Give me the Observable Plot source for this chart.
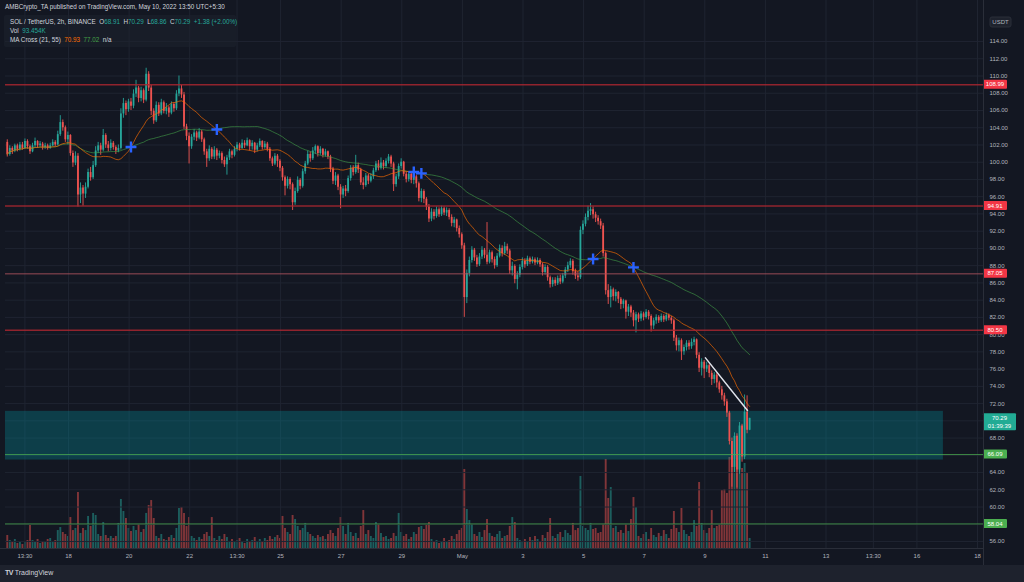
<!DOCTYPE html>
<html><head><meta charset="utf-8">
<script src="https://cdn.jsdelivr.net/npm/d3@7"></script>
<script src="https://cdn.jsdelivr.net/npm/@observablehq/plot@0.6"></script>
<style>
body{margin:0;background:#1e222d;font-family:"Liberation Sans",Arial,sans-serif;}
#wrap{position:relative;width:1024px;height:582px;overflow:hidden;background:#1e222d;}
#chart{position:absolute;left:0;top:0;width:1024px;height:565px;background:#131722;}
#chart svg{position:absolute;left:0;top:0;}
.txt{position:absolute;white-space:nowrap;color:#d1d4dc;font-size:6.3px;line-height:8px;}
.t{color:#26a69a}
#legend{position:absolute;left:4px;top:15px;width:232px;height:32px;background:rgba(30,34,45,0.55);border-radius:2px;}
#vline{position:absolute;left:983px;top:0;width:1px;height:565px;background:#2a2e39;}
#hline{position:absolute;left:0;top:548px;width:983px;height:1px;background:#2a2e39;}
#footer{position:absolute;left:5px;top:569px;font-size:7px;color:#d1d4dc;white-space:nowrap;}
</style></head>
<body>
<div id="wrap">
  <div id="chart"></div>
  <div id="vline"></div>
  <div id="hline"></div>
  <div class="txt" style="left:5px;top:3px;">AMBCrypto_TA published on TradingView.com, May 10, 2022 13:50 UTC+5:30</div>
  <div id="legend"></div>
  <div class="txt" style="left:10px;top:18px;">SOL / TetherUS, 2h, BINANCE&nbsp;&nbsp;O<span class="t">68.91</span>&nbsp;&nbsp;H<span class="t">70.29</span>&nbsp;&nbsp;L<span class="t">68.86</span>&nbsp;&nbsp;C<span class="t">70.29</span>&nbsp;&nbsp;<span class="t">+1.38 (+2.00%)</span></div>
  <div class="txt" style="left:10px;top:27px;">Vol&nbsp;&nbsp;<span class="t">93.454K</span></div>
  <div class="txt" style="left:10px;top:36px;">MA Cross (21, 55)&nbsp;&nbsp;<span style="color:#ff6d00">70.93</span>&nbsp;&nbsp;<span style="color:#43a047">77.02</span>&nbsp;&nbsp;n/a</div>
  <div id="footer"><span style="font-weight:900;letter-spacing:-0.6px;">TV</span>&nbsp;TradingView</div>
</div>
<script>
// ---------------- DATA ----------------
const firstOpen = 102.3;
const closes = [
100.9,101.6,101.3,101.9,101.5,102.0,101.6,102.4,101.8,101.2,101.9,102.4,
101.9,102.1,101.7,101.9,101.6,101.9,102.3,102.0,103.2,104.6,104.0,102.6,
103.1,101.0,99.9,100.7,96.2,97.0,96.3,97.1,98.8,98.2,99.6,101.3,
101.9,101.4,103.1,102.0,101.6,102.2,101.7,101.3,101.6,105.6,106.8,106.1,
107.0,106.5,107.9,108.6,107.4,108.3,107.2,110.2,108.6,105.9,104.8,106.6,
105.6,106.9,105.9,106.3,105.7,106.7,106.2,107.9,108.5,107.8,104.1,103.0,
101.8,102.9,103.4,102.8,103.5,102.6,101.2,100.4,101.5,100.6,101.4,100.7,
101.0,100.2,99.7,100.5,101.2,100.8,101.5,102.0,101.6,102.2,101.9,102.5,
101.8,102.2,101.4,101.9,102.4,101.7,102.1,101.5,100.4,99.8,100.7,100.1,
99.3,98.2,97.2,98.0,97.4,95.3,96.6,97.9,97.2,98.9,99.8,100.9,
100.4,101.3,101.8,101.0,101.5,100.8,101.2,100.6,99.2,97.8,98.4,97.1,
96.2,96.9,96.6,98.1,99.3,98.8,99.6,99.1,97.6,97.3,98.4,97.8,
98.3,99.0,99.8,99.3,99.9,99.5,100.1,100.6,99.8,97.4,98.3,99.5,
100.0,98.6,98.0,98.6,97.9,98.3,97.5,95.8,96.6,95.7,94.8,93.4,
94.2,93.7,94.5,93.9,94.6,94.1,94.4,93.6,92.9,93.3,92.3,91.6,
90.3,84.3,87.1,88.6,89.8,88.9,88.1,89.0,89.8,89.2,88.4,89.5,
88.7,88.0,89.1,90.0,89.4,90.2,89.7,87.4,87.9,86.4,86.9,87.8,
88.5,88.1,88.8,88.4,88.7,88.3,88.6,88.1,87.2,87.8,86.6,85.8,
86.3,85.9,86.5,86.1,86.8,87.5,88.0,88.5,87.3,86.8,86.6,92.1,
92.8,93.6,94.3,94.5,93.9,93.5,93.1,92.6,89.4,85.1,84.3,85.2,
84.4,84.9,84.1,83.5,83.9,82.6,83.2,82.5,81.6,82.3,81.8,82.4,
82.0,82.6,82.1,81.0,81.6,82.0,81.6,82.1,81.7,82.2,81.9,81.6,
79.6,78.7,79.3,78.0,78.5,79.0,78.6,79.1,79.4,77.6,76.1,76.8,
76.0,76.4,75.5,74.8,75.3,74.4,73.6,72.9,72.2,70.9,67.6,64.6,
68.2,64.3,69.4,65.8,71.0,68.91,70.29];
const highs = [
102.6,101.9,101.8,102.1,102.1,102.3,102.3,102.7,102.6,102.0,102.2,102.8,
102.5,102.4,102.3,102.2,102.1,102.2,102.6,102.5,103.6,105.4,104.9,104.2,
103.5,103.2,101.3,101.2,101.0,97.6,97.3,97.6,99.2,99.4,100.1,101.8,
102.3,102.2,103.8,103.3,102.4,102.6,102.4,101.9,102.0,106.2,107.4,107.1,
107.3,107.4,108.4,109.5,108.8,108.7,108.5,110.9,110.5,108.9,106.2,107.0,
106.9,107.3,107.1,106.8,106.5,107.0,106.9,108.3,110.0,108.9,108.1,104.4,
103.4,103.2,103.8,103.6,103.9,103.7,102.8,101.5,101.9,101.7,101.8,101.6,
101.3,101.2,100.6,100.8,101.5,101.4,101.8,102.3,102.2,102.6,102.5,102.8,
102.6,102.5,102.3,102.2,102.7,102.5,102.4,102.3,101.7,100.6,101.0,100.9,
100.3,99.5,98.4,98.3,98.2,97.6,97.0,98.3,98.1,99.2,100.1,101.3,
101.2,101.7,102.0,101.9,101.8,101.6,101.5,101.3,100.8,99.4,98.8,98.6,
97.4,97.2,97.3,98.4,99.6,99.6,100.8,99.9,99.3,98.2,98.7,98.6,
98.7,99.3,100.1,100.2,100.5,100.2,100.4,100.9,100.8,100.0,98.6,99.8,
100.4,100.1,98.9,98.9,98.8,98.6,98.5,97.7,96.9,96.8,95.9,95.1,
94.6,94.5,94.8,94.7,94.9,94.8,94.7,94.6,93.9,93.6,93.4,92.6,
91.8,90.6,87.5,89.0,90.2,90.0,89.2,89.4,90.2,90.0,93.0,89.8,
89.7,89.0,89.4,90.4,90.3,90.7,90.5,89.9,88.4,88.1,87.3,88.1,
88.9,88.8,89.1,89.0,89.0,88.9,88.9,88.8,88.3,88.1,88.0,86.8,
86.6,86.6,86.8,86.9,87.1,87.8,88.4,88.8,88.7,87.6,87.3,92.5,
93.2,94.0,94.9,95.2,94.8,94.2,93.8,93.4,92.9,89.6,85.8,85.6,
85.4,85.2,85.0,84.3,84.1,84.0,83.5,83.4,82.8,82.6,82.5,82.7,
82.6,82.9,82.8,82.3,81.9,82.3,82.2,82.4,82.3,82.5,82.4,82.1,
81.8,79.9,79.6,79.5,78.8,79.3,79.3,79.5,79.7,79.5,77.9,77.2,
77.0,76.8,76.6,75.8,75.6,75.5,74.6,74.0,73.2,72.5,71.1,68.0,
68.6,68.5,69.8,69.6,73.0,72.9,70.29];
const lows = [
100.6,100.7,100.9,101.1,101.2,101.3,101.4,101.5,101.5,100.9,101.1,101.7,
101.6,101.7,101.4,101.5,101.4,101.5,101.8,101.8,101.9,103.0,103.6,102.3,
102.0,100.7,99.4,99.6,94.8,95.2,94.9,95.8,96.9,97.8,98.0,99.4,
101.0,100.8,101.2,101.6,101.2,101.3,101.4,100.9,101.1,101.4,105.1,105.4,
105.8,106.0,106.2,107.5,106.9,107.0,106.8,107.0,108.2,105.4,104.4,104.6,
105.3,105.4,105.6,105.5,105.2,105.5,105.8,106.0,107.6,107.4,103.8,102.5,
99.8,101.5,102.5,102.4,102.6,102.3,100.8,99.4,100.1,100.3,100.3,100.2,
100.4,99.8,99.4,98.5,100.2,100.4,100.6,101.2,101.3,101.5,101.6,101.8,
101.3,101.4,101.0,101.2,101.7,101.4,101.5,101.2,100.1,99.5,99.6,99.4,
98.9,97.8,96.1,96.9,96.8,94.4,95.0,96.4,96.8,97.0,98.6,99.6,
100.0,100.2,100.9,100.6,100.8,100.5,100.6,100.3,98.8,97.4,97.3,96.7,
94.6,95.8,96.0,96.4,97.8,98.4,98.6,98.7,97.3,96.8,97.1,97.4,
97.6,98.0,98.8,99.0,99.1,99.1,99.3,99.8,99.4,96.6,97.1,98.0,
99.2,98.3,97.6,97.7,97.5,97.4,97.0,95.4,95.3,95.2,94.4,93.0,
93.1,93.3,93.5,93.6,93.7,93.8,93.7,93.3,92.5,92.4,91.9,91.2,
89.9,82.0,83.6,86.7,88.3,88.5,87.8,87.9,88.7,88.8,88.1,88.2,
88.3,87.6,87.8,88.9,89.0,89.2,89.3,87.0,86.8,85.9,85.2,86.6,
87.5,87.7,87.9,88.1,88.2,88.0,88.1,87.8,86.8,86.9,86.2,85.4,
85.5,85.6,85.7,85.8,85.9,86.5,87.2,87.7,86.9,86.4,86.2,86.4,
91.6,92.5,93.2,93.8,93.4,93.0,92.7,92.2,89.0,84.6,83.5,83.1,
83.9,83.8,83.6,82.9,83.0,81.8,82.1,82.0,80.9,80.2,81.4,81.5,
81.6,81.8,81.7,80.3,80.6,81.2,81.3,81.4,81.4,81.5,81.6,81.2,
79.2,78.1,78.0,77.0,77.6,78.1,78.2,78.3,78.7,77.2,75.6,75.2,
74.9,75.6,75.0,74.1,74.3,73.8,73.2,72.4,71.7,70.4,67.2,62.3,
64.0,62.2,63.8,65.2,65.5,68.5,68.86];
// volume, thousands of SOL
const volumes = [
121,74,56,84,47,56,37,65,74,214,74,56,
84,47,65,56,84,93,56,74,167,195,149,130,
112,288,167,186,521,140,186,167,298,205,326,307,
130,112,242,121,93,112,93,112,233,456,344,279,
186,158,205,167,223,149,177,326,400,446,279,112,
93,130,84,74,102,121,93,186,372,381,326,205,
288,112,93,74,102,84,130,149,112,288,93,74,
112,84,130,102,65,84,56,74,93,65,47,84,
56,74,102,65,84,56,93,74,112,84,102,121,
93,298,186,149,130,307,270,205,167,186,233,149,
130,112,93,121,102,112,84,130,167,140,112,186,
288,205,130,233,149,112,140,93,205,353,130,167,
112,93,242,223,140,102,112,84,93,140,112,326,
149,112,130,84,102,149,130,195,205,177,214,242,
84,56,74,47,65,93,56,74,112,84,130,167,
186,735,363,260,223,130,112,149,102,167,270,140,
112,102,130,158,93,112,121,205,288,242,93,74,
65,84,56,102,74,112,84,65,121,93,149,279,
112,93,130,149,102,167,140,121,233,167,186,670,
205,186,167,233,177,186,140,149,223,828,465,567,
186,205,149,167,140,223,158,270,474,381,112,93,
130,149,84,186,121,102,140,112,167,130,93,177,
344,186,149,372,167,130,112,149,260,205,614,233,
167,140,186,353,186,205,223,539,549,512,846,884,
818,837,856,744,791,698,93.454];

const firstCandle = "2022-04-15T23:30Z";   // 2h candles
const redLevels = [108.99, 94.91, 80.50];
const greyLevels = [87.05];
const greenLevels = [66.09, 58.04];
const zoneLow = 65.45, zoneHigh = 71.1;
const zoneEnd = "2022-05-16T21:00Z";
const trendTimes = ["2022-05-09T00:30Z", "2022-05-10T09:50Z"];
const trendPrices = [77.3, 71.2];
const lastPrice = 70.29, countdown = "01:39:39";
// tick 70 sits under the last-price tag in the reference, so it is not listed
const yTicks = [56,58,60,62,64,66,68,72,74,76,78,80,82,84,86,88,90,92,94,96,98,100,102,104,106,108,110,112,114];
const gridTicks = [56,58,60,62,64,66,68,70,72,74,76,78,80,82,84,86,88,90,92,94,96,98,100,102,104,106,108,110,112,114];
const tickDates = ["2022-04-16T13:30Z","2022-04-18T00:00Z","2022-04-20T00:00Z","2022-04-22T00:00Z","2022-04-23T13:30Z","2022-04-25T00:00Z","2022-04-27T00:00Z","2022-04-29T00:00Z","2022-05-01T00:00Z","2022-05-03T00:00Z","2022-05-05T00:00Z","2022-05-07T00:00Z","2022-05-09T00:00Z","2022-05-11T00:00Z","2022-05-13T00:00Z","2022-05-14T13:30Z","2022-05-16T00:00Z","2022-05-18T00:00Z"];
const tickLabels = ["13:30","18","20","22","13:30","25","27","29","May","3","5","7","9","11","13","13:30","16","18"];
const xDomain = ["2022-04-15T22:06Z", "2022-05-18T04:45Z"];
const yDomain = [55.19, 118.76];
const volDomain = [0, 5096];

// ---------------- BUILD ----------------
const UP = "#26a69a", DOWN = "#ef5350";
const T0 = new Date(firstCandle).getTime(), STEP = 2 * 3600 * 1000;
const candles = closes.map((c, k) => {
  const o = k ? closes[k - 1] : firstOpen;
  return {t: new Date(T0 + k * STEP), o, c, h: Math.max(highs[k], o, c), l: Math.min(lows[k], o, c), v: volumes[k], up: c >= o};
});
function sma(n) {
  return closes.map((_, k) => d3.mean(closes.slice(Math.max(0, k - n + 1), k + 1)));
}
const fast = sma(21), slow = sma(55);
const maFast = candles.map((d, k) => ({t: d.t, v: fast[k]}));
const maSlow = candles.map((d, k) => ({t: d.t, v: slow[k]}));
const crosses = [];
for (let k = 40; k < closes.length; k++) {
  const a = fast[k - 1] - slow[k - 1], b = fast[k] - slow[k];
  if (a * b < 0) crosses.push({t: candles[k].t, v: (fast[k] + slow[k]) / 2});
}
const xd = xDomain.map(d => new Date(d));
const tickD = tickDates.map(d => new Date(d));
const labelMap = new Map(tickD.map((d, i) => [+d, tickLabels[i]]));

const common = {
  width: 1024, height: 565, marginLeft: 5, marginRight: 41, marginTop: 0, marginBottom: 17,
  style: {background: "transparent", color: "#b2b5be", fontSize: "6px", fontFamily: "Liberation Sans, Arial, sans-serif", overflow: "visible"}
};

const volPlot = Plot.plot({
  ...common,
  x: {type: "utc", domain: xd, axis: null},
  y: {domain: volDomain, axis: null},
  marks: [
    Plot.ruleX(candles, {x: "t", y1: 0, y2: "v", stroke: d => d.up ? UP : DOWN, strokeOpacity: 0.5, strokeWidth: 1.9})
  ]
});

const plot = Plot.plot({
  ...common,
  x: {type: "utc", domain: xd},
  y: {domain: yDomain},
  marks: [
    Plot.ruleY(gridTicks, {stroke: "#1f2431", strokeWidth: 1}),
    Plot.ruleX(tickD, {stroke: "#1f2431", strokeWidth: 1}),
    Plot.rect([{x1: xd[0], x2: new Date(zoneEnd), y1: zoneLow, y2: zoneHigh}], {x1: "x1", x2: "x2", y1: "y1", y2: "y2", fill: "#0097a7", fillOpacity: 0.3}),
    Plot.ruleX(candles, {x: "t", y1: "l", y2: "h", stroke: d => d.up ? UP : DOWN, strokeWidth: 0.9}),
    Plot.ruleX(candles, {x: "t", y1: "o", y2: "c", stroke: d => d.up ? UP : DOWN, strokeWidth: 1.8}),
    Plot.line(maSlow, {x: "t", y: "v", stroke: "#43a047", strokeOpacity: 0.6, strokeWidth: 1}),
    Plot.line(maFast, {x: "t", y: "v", stroke: "#ff6d00", strokeOpacity: 0.65, strokeWidth: 1}),
    Plot.ruleY(redLevels, {stroke: "#a8262f", strokeWidth: 1.5, strokeOpacity: 0.85}),
    Plot.ruleY(greyLevels, {stroke: "#a6505a", strokeWidth: 1, strokeOpacity: 0.9}),
    Plot.ruleY(greenLevels, {stroke: "#4caf50", strokeWidth: 1, strokeOpacity: 0.75}),
    Plot.line(trendTimes.map((t, i) => ({t: new Date(t), v: trendPrices[i]})), {x: "t", y: "v", stroke: "#e0e3eb", strokeWidth: 1.5}),
    Plot.dot(crosses, {x: "t", y: "v", symbol: "plus", r: 3.6, stroke: "#2962ff", strokeWidth: 2.4}),
    Plot.axisY(yTicks, {anchor: "right", tickSize: 0, tickPadding: 6, tickFormat: d => d.toFixed(2), fill: "#b2b5be", label: null}),
    Plot.axisX(tickD, {anchor: "bottom", tickSize: 0, tickPadding: 5, tickFormat: d => labelMap.get(+d), fill: "#b2b5be", label: null})
  ]
});

const chart = document.getElementById("chart");
chart.appendChild(volPlot);
chart.appendChild(plot);

// price tags on the right axis, placed with the plot's own y scale
const ys = plot.scale("y");
const svg = d3.select(plot);
const axisX0 = common.width - common.marginRight;
function tag(v, lines, bg, w) {
  const y = ys.apply(v);
  const g = svg.append("g");
  g.append("rect").attr("x", axisX0).attr("y", y - 4.5).attr("width", w).attr("height", 9 + (lines.length - 1) * 8).attr("rx", 1).attr("fill", bg);
  lines.forEach((s, i) => g.append("text").attr("x", axisX0 + w / 2).attr("y", y + i * 8).attr("dy", "0.35em")
    .attr("text-anchor", "middle").attr("fill", "#ffffff").attr("font-size", "6px").text(s));
}
redLevels.forEach(v => tag(v, [v.toFixed(2)], "#f23645", 24));
greyLevels.forEach(v => tag(v, [v.toFixed(2)], "#f23645", 24));
greenLevels.forEach(v => tag(v, [v.toFixed(2)], "#4caf50", 24));
tag(lastPrice, [lastPrice.toFixed(2), countdown], "#22ab94", 33);
// currency badge
const ub = svg.append("g");
ub.append("rect").attr("x", axisX0 + 7).attr("y", 17).attr("width", 21).attr("height", 10).attr("rx", 2).attr("fill", "#1e222d").attr("stroke", "#2a2e39");
ub.append("text").attr("x", axisX0 + 17.5).attr("y", 22).attr("dy", "0.35em").attr("text-anchor", "middle").attr("fill", "#b2b5be").attr("font-size", "6px").text("USDT");
</script>
</body></html>
